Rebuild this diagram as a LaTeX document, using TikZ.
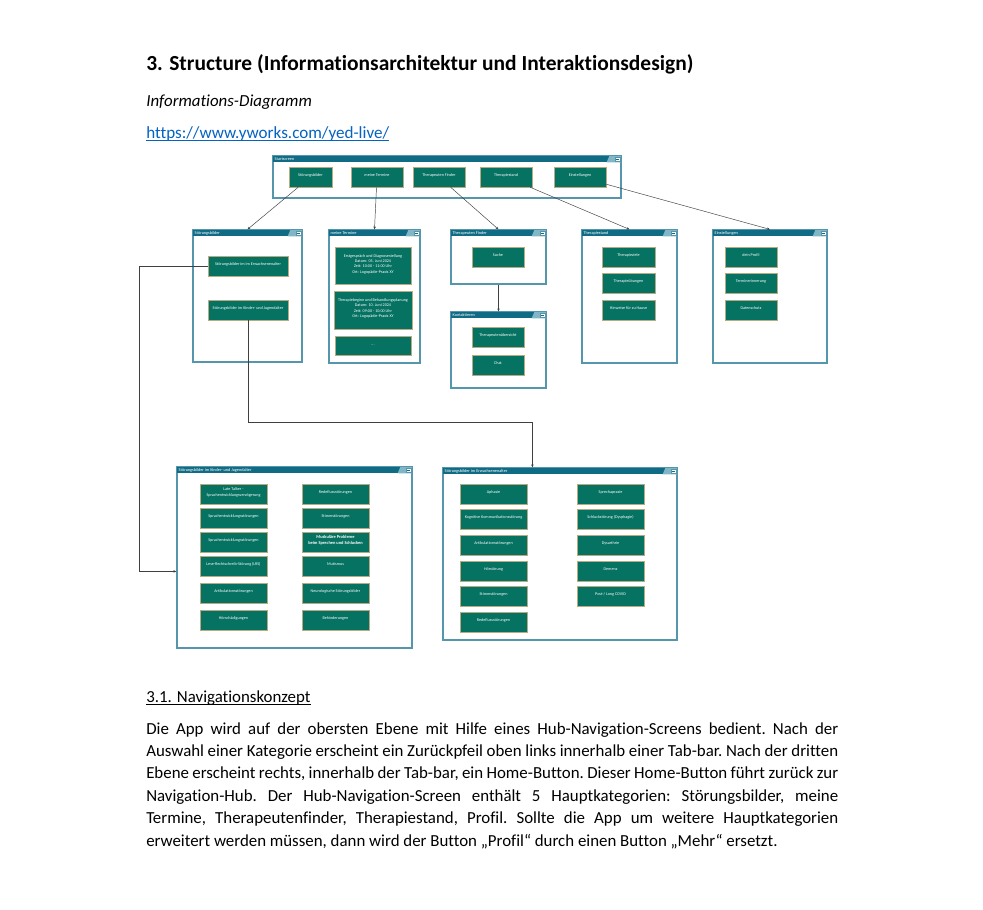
\documentclass[tikz,border=0pt]{standalone}
\usepackage{fontspec}
\setmainfont{Carlito}[Ligatures=NoCommon]
\usetikzlibrary{calc,fit,arrows.meta}

\definecolor{btnfill}{RGB}{6,114,98}
\definecolor{btnline}{RGB}{185,170,130}
\definecolor{barfill}{RGB}{16,108,132}
\definecolor{barlight}{RGB}{128,182,198}
\definecolor{grpline}{RGB}{86,150,172}
\definecolor{urlblue}{RGB}{5,99,193}

\begin{document}
\begin{tikzpicture}[x=0.75pt,y=-0.75pt,
    grp/.style={draw=grpline, line width=0.9pt, fill=white, inner sep=0pt},
    btn/.style={draw=btnline, line width=0.4pt, fill=btnfill, inner sep=0pt, text=white, align=center, font=\fontsize{3.1}{4}\selectfont},
    bar/.style={fill=barfill},
    grptitle/.style={text=white, inner sep=0pt, font=\fontsize{3.2}{3.5}\selectfont},
    txt/.style={anchor=base west, inner sep=0pt},
    link/.style={draw=black!75, line width=0.35pt, -{Stealth[length=2.2pt,width=1.8pt]}}]

    \fill[white] (0,0) rectangle (983,910);
    \useasboundingbox (0,0) rectangle (983,910);

    %page texts above the diagram
        \node[txt, font=\fontsize{16.1}{19}\bfseries] (head) at (146,70) {3. Structure (Informationsarchitektur und Interaktionsdesign)};
        \node[txt, font=\fontsize{12.65}{15}\itshape] (sub) at (146,106) {Informations-Diagramm};
        \node[txt, text=urlblue, font=\fontsize{12.8}{15}\selectfont] (url) at (146,138) {https://www.yworks.com/yed-live/};
        \draw[urlblue, line width=0.8pt] ([yshift=-1.8pt]url.base west) -- ([yshift=-1.8pt]url.base east);

    %group frames
        \node[grp, fit={(273,156) (621,198)}] (st) {};
        \node[grp, fit={(193,230) (302,362)}] (sb) {};
        \node[grp, fit={(329,230) (420,363)}] (mt) {};
        \node[grp, fit={(451,230) (546,284)}] (tf) {};
        \node[grp, fit={(451,312) (546,388)}] (kt) {};
        \node[grp, fit={(582,230) (677,363)}] (ts) {};
        \node[grp, fit={(713,230) (827,363)}] (es) {};
        \node[grp, fit={(177,467) (412,648)}] (kj) {};
        \node[grp, fit={(443,468) (677,640)}] (ew) {};

    %title bars
    \foreach \g/\t in {st/Startscreen, sb/Störungsbilder, mt/meine Termine, tf/Therapeuten Finder, kt/Kontaktieren, ts/Therapiestand, es/Einstellungen, kj/Störungsbilder im Kinder- und Jugendalter, ew/Störungsbilder im Erwachsenenalter}{
        \fill[bar] (\g.north west) rectangle ($(\g.north east)+(0,7)$);
        \fill[barlight] ($(\g.north east)+(-12,0)$) -- (\g.north east) -- ++(0,7) -- ++(-15,0) -- cycle;
        \draw[grpline, line width=0.9pt] (\g.north west) rectangle (\g.south east);
        \filldraw[fill=white, draw=grpline, line width=0.3pt] ($(\g.north east)+(-6.5,1.3)$) rectangle ++(4.6,4.6);
        \draw[barfill, line width=0.4pt] ($(\g.north east)+(-5.5,3.6)$) -- ++(2.6,0);
        \node[grptitle, anchor=west] (\g-title) at ($(\g.north west)+(2,3.5)$) {\t};
    }

    %startscreen buttons
        \node[btn, fit={(289,167) (332,187)}] (s1) {Störungsbilder};
        \node[btn, fit={(351,167) (403,187)}] (s2) {meine Termine};
        \node[btn, fit={(413,167) (465,187)}] (s3) {Therapeuten Finder};
        \node[btn, fit={(480,167) (532,187)}] (s4) {Therapiestand};
        \node[btn, fit={(554,167) (606,187)}] (s5) {Einstellungen};

    %second level
        \node[btn, fit={(208,256) (288,276)}] (sbe) {Störungsbilder im im Erwachsenenalter};
        \node[btn, fit={(208,300) (288,320)}] (sbk) {Störungsbilder im Kinder- und Jugendalter};

        \node[btn, fit={(335,247) (411,284)}] (t1) {Erstgespräch und Diagnosestellung\\Datum: 05. Juni 2024\\Zeit: 10:00 - 11:00 Uhr\\Ort: Logopädie-Praxis XY};
        \node[btn, fit={(334,291) (412,329)}] (t2) {Therapiebeginn und Behandlungsplanung\\Datum: 10. Juni 2024\\Zeit: 09:00 - 10:00 Uhr\\Ort: Logopädie-Praxis XY};
        \node[btn, fit={(335,336) (411,355)}] (t3) {...};

        \node[btn, fit={(472,247) (524,267)}] (su) {Suche};
        \node[btn, fit={(472,327) (524,347)}] (tu) {Therapeutenübersicht};
        \node[btn, fit={(472,355) (524,375)}] (ch) {Chat};

        \node[btn, fit={(602,247) (655,267)}] (ts1) {Therapieziele};
        \node[btn, fit={(602,273) (655,293)}] (ts2) {Therapieübungen};
        \node[btn, fit={(602,300) (655,320)}] (ts3) {Hinweise für zu Hause};

        \node[btn, fit={(725,247) (777,267)}] (es1) {dein Profil};
        \node[btn, fit={(725,273) (777,293)}] (es2) {Terminerinnerung};
        \node[btn, fit={(725,300) (777,320)}] (es3) {Datenschutz};

    %kinder- und jugendalter
        \node[btn, fit={(200,484) (267,504)}] (k1) {Late Talker -\\Sprachentwicklungsverzögerung};
        \node[btn, fit={(200,508) (267,528)}] (k2) {Sprachentwicklungsstörungen};
        \node[btn, fit={(200,532) (267,552)}] (k3) {Sprachentwicklungsstörungen};
        \node[btn, fit={(200,556) (267,576)}] (k4) {Lese-Rechtschreib-Störung (LRS)};
        \node[btn, fit={(200,583) (267,603)}] (k5) {Artikulationsstörungen};
        \node[btn, fit={(200,610) (267,630)}] (k6) {Hörschädigungen};
        \node[btn, fit={(302,484) (369,504)}] (k7) {Redeflussstörungen};
        \node[btn, fit={(302,508) (369,528)}] (k8) {Stimmstörungen};
        \node[btn, fit={(302,532) (369,552)}, font=\fontsize{3.3}{4.3}\bfseries] (k9) {Muskuläre Probleme\\beim Sprechen und Schlucken};
        \node[btn, fit={(302,556) (369,576)}] (k10) {Mutismus};
        \node[btn, fit={(302,583) (369,603)}] (k11) {Neurologische Störungsbilder};
        \node[btn, fit={(302,610) (369,630)}] (k12) {Behinderungen};

    %erwachsenenalter
        \node[btn, fit={(460,484) (527,504)}] (e1) {Aphasie};
        \node[btn, fit={(460,509) (527,529)}] (e2) {Kognitive Kommunikationsstörung};
        \node[btn, fit={(460,535) (527,555)}] (e3) {Artikulationsstörungen};
        \node[btn, fit={(460,561) (527,581)}] (e4) {Hörstörung};
        \node[btn, fit={(460,586) (527,606)}] (e5) {Stimmstörungen};
        \node[btn, fit={(460,612) (527,632)}] (e6) {Redeflussstörungen};
        \node[btn, fit={(577,484) (644,504)}] (e7) {Sprechapraxie};
        \node[btn, fit={(577,509) (644,529)}] (e8) {Schluckstörung (Dysphagie)};
        \node[btn, fit={(577,535) (644,555)}] (e9) {Dysarthrie};
        \node[btn, fit={(577,561) (644,581)}] (e10) {Demenz};
        \node[btn, fit={(577,586) (644,606)}] (e11) {Post-/ Long COVID};

    %connectors
        \draw[link] (s1) -- (sb.north);
        \draw[link] (s2) -- (mt.north);
        \draw[link] (s3) -- (tf.north);
        \draw[link] (s4) -- (ts.north);
        \draw[link] (s5) -- (es.north);
        \draw[link] (tf) -- (kt);
        \draw[link] (sbk.south) -- ++(0,102) -| ($(ew.north west)+(90,0)$);
        \draw[link] (sbe.west) -- ++(-69,0) |- ($(kj.north west)+(0,105)$);

    %page texts below the diagram
        \node[txt, font=\fontsize{12.65}{15}\selectfont] (sec) at (146,702) {3.1. Navigationskonzept};
        \draw[line width=0.7pt] ([yshift=-1.8pt]sec.base west) -- ([yshift=-1.8pt]sec.base east);
        \node[txt, text width=519pt, align=justify, font=\fontsize{12.65}{16.8}\selectfont\frenchspacing] (para) at (146,734)
            {Die App wird auf der obersten Ebene mit Hilfe eines Hub-Navigation-Screens bedient. Nach der\linebreak
            Auswahl einer Kategorie erscheint ein Zurückpfeil oben links innerhalb einer Tab-bar. Nach der dritten\linebreak
            Ebene erscheint rechts, innerhalb der Tab-bar, ein Home-Button. Dieser Home-Button führt zurück zur\linebreak
            Navigation-Hub. Der Hub-Navigation-Screen enthält 5 Hauptkategorien: Störungsbilder, meine\linebreak
            Termine, Therapeutenfinder, Therapiestand, Profil. Sollte die App um weitere Hauptkategorien\linebreak
            erweitert werden müssen, dann wird der Button „Profil“ durch einen Button „Mehr“ ersetzt.};

\end{tikzpicture}
\end{document}
